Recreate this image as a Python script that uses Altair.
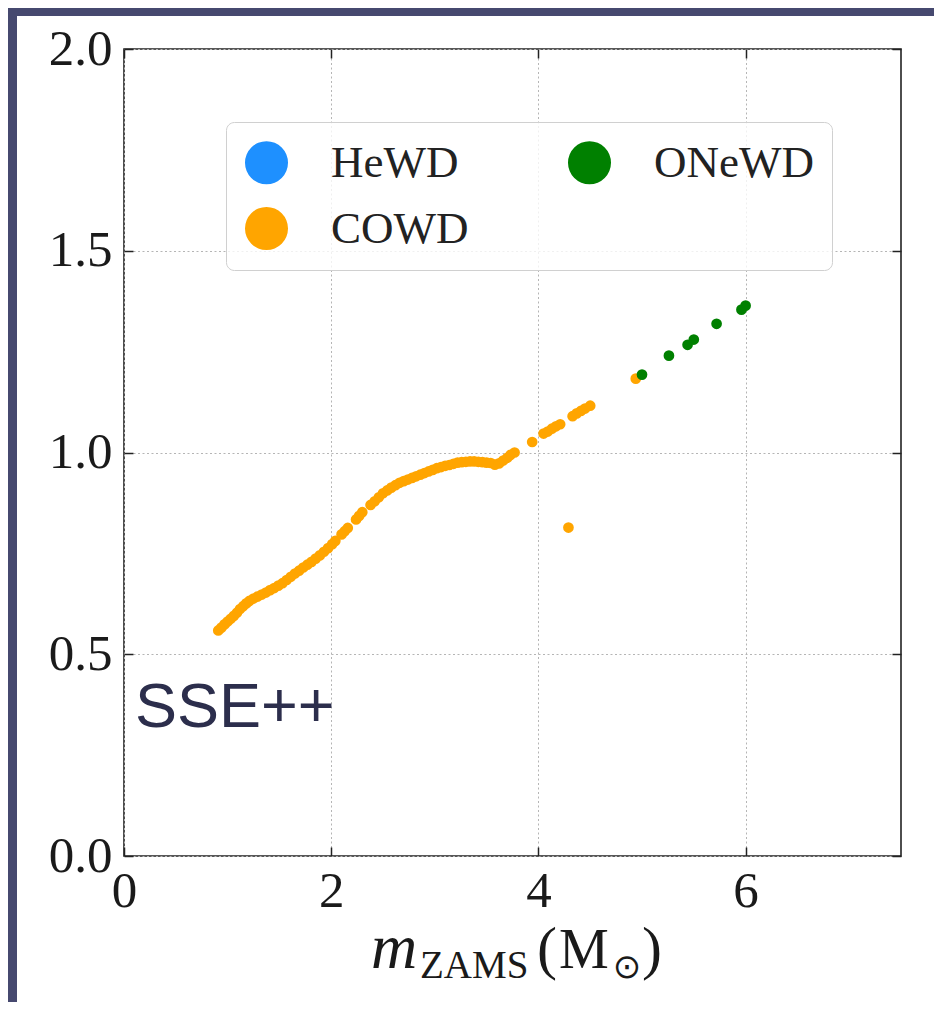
import altair as alt
import pandas as pd

# ---- data ----
cowd_mzams = [0.91, 0.94, 0.97, 1.00, 1.03, 1.06, 1.09, 1.12, 1.15, 1.18, 1.21, 1.25,
              1.29, 1.33, 1.37, 1.41, 1.45, 1.49, 1.53, 1.57, 1.61, 1.65, 1.69, 1.73,
              1.77, 1.81, 1.85, 1.89, 1.93, 1.97, 2.01, 2.04,
              2.10, 2.13, 2.16,
              2.24, 2.27, 2.30,
              2.38, 2.42, 2.46, 2.50, 2.54, 2.58, 2.62, 2.66, 2.70, 2.74, 2.78, 2.82,
              2.86, 2.90, 2.94, 2.98, 3.02, 3.06, 3.10, 3.14, 3.18, 3.22, 3.26, 3.30,
              3.34, 3.38, 3.42, 3.46, 3.50, 3.54, 3.58, 3.62, 3.66, 3.70, 3.73, 3.77,
              3.94, 4.05, 4.09, 4.13, 4.17, 4.21,
              4.33, 4.37, 4.41, 4.45, 4.50,
              4.29, 4.94]
cowd_mwd = [0.559, 0.566, 0.574, 0.581, 0.588, 0.595, 0.603, 0.612, 0.619, 0.626, 0.632, 0.638,
            0.643, 0.648, 0.653, 0.659, 0.664, 0.670, 0.676, 0.684, 0.692, 0.700, 0.707, 0.715,
            0.722, 0.729, 0.737, 0.745, 0.754, 0.763, 0.773, 0.781,
            0.797, 0.805, 0.813,
            0.834, 0.843, 0.852,
            0.870, 0.879, 0.889, 0.899, 0.906, 0.913, 0.919, 0.925, 0.929, 0.933, 0.937, 0.941,
            0.945, 0.949, 0.953, 0.957, 0.961, 0.964, 0.967, 0.969, 0.972, 0.975, 0.976, 0.977,
            0.978, 0.978, 0.977, 0.976, 0.975, 0.974, 0.970, 0.973, 0.980, 0.987, 0.994, 1.000,
            1.026, 1.047, 1.052, 1.059, 1.065, 1.070,
            1.090, 1.097, 1.103, 1.109, 1.116,
            0.814, 1.183]
onewd_mzams = [5.00, 5.26, 5.44, 5.50, 5.72, 5.96, 6.00]
onewd_mwd = [1.193, 1.240, 1.267, 1.280, 1.319, 1.354, 1.364]

legend_order = ["HeWD", "COWD", "ONeWD"]
legend_colors = ["#1e90ff", "#ffa500", "#008000"]
x_ticks = [0, 2, 4, 6]
y_ticks = [0.0, 0.5, 1.0, 1.5, 2.0]
x_domain = [0, 7.5]
y_domain = [0, 2]
overlay_text = ["SSE++"]

df = pd.DataFrame({
    "m": cowd_mzams + onewd_mzams,
    "mwd": cowd_mwd + onewd_mwd,
    "type": ["COWD"] * len(cowd_mzams) + ["ONeWD"] * len(onewd_mzams),
})
one = pd.DataFrame({"a": [0]})

W, H = 777, 807
SLIDE = "#46496f"
SERIF = "Liberation Serif"
xs = alt.Scale(domain=x_domain, nice=False, zero=False)
ys = alt.Scale(domain=y_domain, nice=False, zero=False)

grid_kw = dict(grid=True, gridColor="#b5b5b5", gridDash=[2, 2.5], gridWidth=1)
lab_kw = dict(labelFont=SERIF, labelFontSize=51, labelColor="#1a1a1a", labelFlush=False,
              labelOverlap=False, domain=False, ticks=False, title=None)

points = alt.Chart(df).mark_circle(size=115, opacity=1).encode(
    x=alt.X("m:Q", scale=xs, axis=alt.Axis(values=x_ticks, format="d", labelPadding=10,
                                           **grid_kw, **lab_kw)),
    y=alt.Y("mwd:Q", scale=ys, axis=alt.Axis(values=y_ticks, format=".1f", labelPadding=12,
                                             **grid_kw, **lab_kw)),
    color=alt.Color("type:N", scale=alt.Scale(domain=legend_order, range=legend_colors),
                    legend=alt.Legend(title=None, orient="none", legendX=102, legendY=73,
                                      columns=2, symbolType="circle", symbolSize=1850,
                                      symbolStrokeWidth=0, symbolOpacity=1,
                                      labelFont=SERIF, labelFontSize=45, labelColor="#222",
                                      labelOffset=42, labelLimit=400, rowPadding=20,
                                      columnPadding=98, padding=18,
                                      fillColor="rgba(255,255,255,0.8)",
                                      strokeColor="#d0d0d0", cornerRadius=8)),
)

tick_kw = dict(labels=False, domain=False, grid=False, ticks=True, tickSize=9,
               tickWidth=1.5, tickColor="#222", title=None)

ticks_a = alt.Chart(df).mark_circle(opacity=0).encode(
    x=alt.X("m:Q", scale=xs, axis=alt.Axis(orient="top", offset=-H, values=x_ticks, **tick_kw)),
    y=alt.Y("mwd:Q", scale=ys, axis=alt.Axis(orient="right", offset=-W, values=y_ticks, **tick_kw)),
)
ticks_b = alt.Chart(df).mark_circle(opacity=0).encode(
    x=alt.X("m:Q", scale=xs, axis=alt.Axis(orient="bottom", offset=-H, values=x_ticks, **tick_kw)),
    y=alt.Y("mwd:Q", scale=ys, axis=alt.Axis(orient="left", offset=-W, values=y_ticks, **tick_kw)),
)

# slide border strips (decoration)
strip_left = alt.Chart(one).mark_rect(color=SLIDE).encode(
    x=alt.value(-116), x2=alt.value(-107), y=alt.value(-41), y2=alt.value(961))
strip_top = alt.Chart(one).mark_rect(color=SLIDE).encode(
    x=alt.value(-116), x2=alt.value(810), y=alt.value(-41), y2=alt.value(-33))

sse = alt.Chart(one).mark_text(text=overlay_text[0], font="Liberation Sans", fontSize=63,
                               color="#2c2e4c", align="left", baseline="alphabetic").encode(
    x=alt.value(11), y=alt.value(678))

def piece(txt, x, y, size, style="normal", font=SERIF, align="left", baseline="alphabetic"):
    return alt.Chart(one).mark_text(text=txt, font=font, fontSize=size, fontStyle=style,
                                    color="#1a1a1a", align=align, baseline=baseline).encode(
        x=alt.value(x), y=alt.value(y))

title_layers = [
    piece("m", 247, 919, 64, style="italic"),
    piece("ZAMS", 296, 929, 39),
    piece("(", 413, 919, 60),
    piece("M", 435, 919, 56),
    piece("\u2299", 503, 919, 34, font="DejaVu Sans", align="center", baseline="middle"),
    piece(")", 518, 919, 60),
]

chart = alt.layer(
    strip_left, strip_top, points, ticks_a, ticks_b, sse, *title_layers
).resolve_axis(
    x="independent", y="independent"
).properties(
    width=W, height=H,
    autosize=alt.AutoSizeParams(type="none"),
    padding={"left": 116, "top": 41, "right": 33, "bottom": 146},
    background="white",
).configure_view(
    stroke="#222", strokeWidth=1.6
)

chart.save("out.html", embed_options={"renderer": "svg", "actions": False})
